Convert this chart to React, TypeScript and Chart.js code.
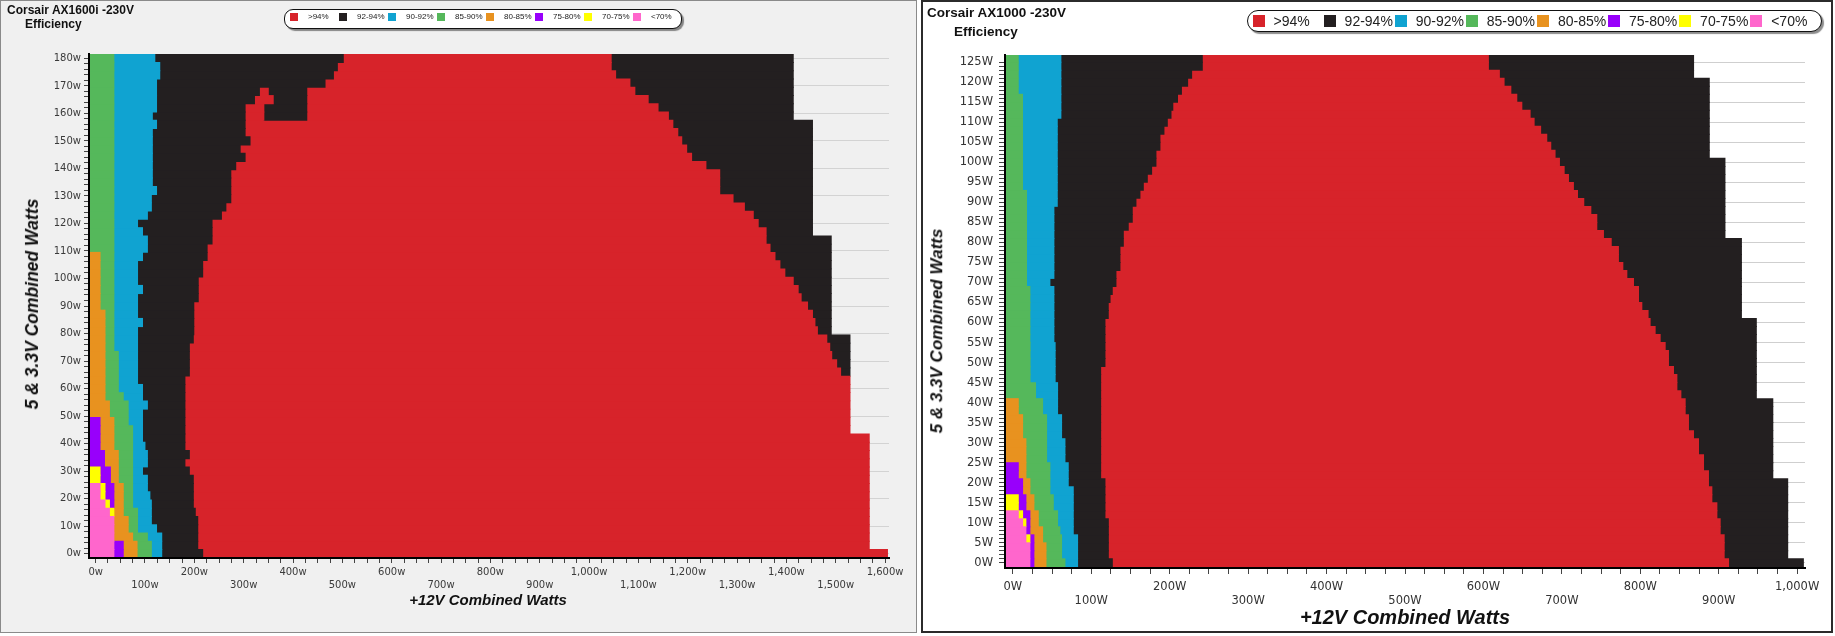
import React, { useEffect, useRef } from 'react';
import { Chart, registerables } from 'chart.js';

Chart.register(...registerables);

// ---------------- colours & legend ----------------
const RED = '#d7232a';
const BLACK = '#231f20';
const BLUE = '#10a3d1';
const GREEN = '#55b85b';
const ORANGE = '#e8921f';
const PURPLE = '#9800fb';
const YELLOW = '#ffff00';
const PINK = '#ff66cc';

const LEGEND_LABELS = ['>94%', '92-94%', '90-92%', '85-90%', '80-85%', '75-80%', '70-75%', '<70%'];
const LEGEND_COLORS = [RED, BLACK, BLUE, GREEN, ORANGE, PURPLE, YELLOW, PINK];

// ---------------- LEFT: Corsair AX1600i -230V ----------------
const L_TITLE = 'Corsair AX1600i -230V';
const L_X_MIN = -13.5;
const L_X_MAX = 1608;
const L_Y_MIN = -1.6;
const L_Y_MAX = 181.6;
const L_ROW_STEP = 3;
const L_Y_MINOR = 2;
const L_X_MINOR = 25;
const L0 = L_X_MIN;

// row centres (5 & 3.3V watts)
const L_ROWS = [0, 3, 6, 9, 12, 15, 18, 21, 24, 27, 30, 33, 36, 39, 42, 45, 48, 51, 54, 57, 60, 63, 66, 69, 72, 75, 78, 81, 84, 87, 90, 93, 96, 99, 102, 105, 108, 111, 114, 117, 120, 123, 126, 129, 132, 135, 138, 141, 144, 147, 150, 153, 156, 159, 162, 165, 168, 171, 174, 177, 180];

// right edge (+12V watts) of each efficiency band, per row
const L_PINK = [
  37, 37, 37, 37, 37, 28, 19, 9, 9, L0,
  L0, L0, L0, L0, L0, L0, L0, L0, L0, L0,
  L0, L0, L0, L0, L0, L0, L0, L0, L0, L0,
  L0, L0, L0, L0, L0, L0, L0, L0, L0, L0,
  L0, L0, L0, L0, L0, L0, L0, L0, L0, L0,
  L0, L0, L0, L0, L0, L0, L0, L0, L0, L0,
  L0,
];
const L_YELLOW = [
  37, 37, 37, 37, 37, 37, 28, 19, 19, 9,
  9, L0, L0, L0, L0, L0, L0, L0, L0, L0,
  L0, L0, L0, L0, L0, L0, L0, L0, L0, L0,
  L0, L0, L0, L0, L0, L0, L0, L0, L0, L0,
  L0, L0, L0, L0, L0, L0, L0, L0, L0, L0,
  L0, L0, L0, L0, L0, L0, L0, L0, L0, L0,
  L0,
];
const L_PURPLE = [
  56, 56, 37, 37, 37, 37, 37, 37, 37, 30,
  30, 18, 18, 9, 9, 9, 9, L0, L0, L0,
  L0, L0, L0, L0, L0, L0, L0, L0, L0, L0,
  L0, L0, L0, L0, L0, L0, L0, L0, L0, L0,
  L0, L0, L0, L0, L0, L0, L0, L0, L0, L0,
  L0, L0, L0, L0, L0, L0, L0, L0, L0, L0,
  L0,
];
const L_ORANGE = [
  84, 84, 75, 66, 66, 56, 56, 56, 56, 46,
  46, 46, 46, 37, 37, 37, 37, 28, 28, 19,
  19, 19, 19, 19, 19, 19, 19, 19, 19, 19,
  9, 9, 9, 9, 9, 9, 9, L0, L0, L0,
  L0, L0, L0, L0, L0, L0, L0, L0, L0, L0,
  L0, L0, L0, L0, L0, L0, L0, L0, L0, L0,
  L0,
];
const L_GREEN = [
  113, 113, 105, 85, 85, 85, 75, 75, 75, 75,
  75, 75, 75, 75, 75, 75, 66, 66, 66, 56,
  46, 46, 46, 46, 46, 37, 37, 37, 37, 37,
  37, 37, 37, 37, 37, 37, 37, 37, 37, 37,
  37, 37, 37, 37, 37, 37, 37, 37, 37, 37,
  37, 37, 37, 37, 37, 37, 37, 37, 37, 37,
  37,
];
const L_BLUE = [
  134, 134, 134, 123.5, 113, 113, 113, 110, 105, 105,
  95, 105, 105, 100, 95, 95, 95, 95, 105, 95,
  95, 85, 85, 85, 85, 85, 85, 85, 95, 85,
  85, 85, 95, 85, 85, 85, 95, 105, 105, 95,
  85, 105, 113, 113, 123.5, 115, 115, 115, 115, 115,
  115, 115, 123.5, 115, 123.5, 123.5, 123.5, 123.5, 130, 130,
  120,
];
const L_BLACK = [
  217, 207, 207, 207, 207, 202, 198, 198, 198, 198,
  190, 181, 190, 181, 181, 181, 181, 181, 181, 181,
  181, 181, 190, 190, 190, 190, 198, 199, 199, 199,
  199, 208, 208, 208, 217, 217, 226, 226, 236, 236,
  236, 255, 264, 274, 274, 274, 274, 284, 303, 293,
  313, 303, 303, 303, 303, 322, 332, 465, 482, 490,
  502,
];
// red island / black bay near 370W, 157-170W
const L_ISLAND_ROWS = [159, 162, 165, 168];
const L_ISLAND_RED_END = [341, 341, 360, 350];
const L_ISLAND_BLACK_END = [428, 428, 428, 428];
const L_RED = [
  1605, 1568, 1568, 1568, 1568, 1568, 1568, 1568, 1568, 1568,
  1568, 1568, 1568, 1568, 1568, 1529, 1529, 1529, 1529, 1529,
  1529, 1529, 1510, 1502, 1492, 1488, 1482, 1463, 1458, 1453,
  1443, 1430, 1424, 1414, 1397, 1387, 1377, 1367, 1359, 1359,
  1343, 1333, 1315, 1292, 1265, 1265, 1265, 1237, 1208, 1198,
  1188, 1180, 1170, 1161, 1140, 1120, 1093, 1083, 1054, 1045,
  1045,
];
const L_BLACK2 = [
  1605, 1568, 1568, 1568, 1568, 1568, 1568, 1568, 1568, 1568,
  1568, 1568, 1568, 1568, 1568, 1529, 1529, 1529, 1529, 1529,
  1529, 1529, 1529, 1529, 1529, 1529, 1529, 1491, 1491, 1491,
  1491, 1491, 1491, 1491, 1491, 1491, 1491, 1491, 1491, 1453,
  1453, 1453, 1453, 1453, 1453, 1453, 1453, 1453, 1453, 1453,
  1453, 1453, 1453, 1414, 1414, 1414, 1414, 1414, 1414, 1414,
  1414,
];

const L_X_LABEL_VALUES = [0, 100, 200, 300, 400, 500, 600, 700, 800, 900, 1000, 1100, 1200, 1300, 1400, 1500, 1600];
const L_X_LABELS = ['0w', '100w', '200w', '300w', '400w', '500w', '600w', '700w', '800w', '900w', '1,000w', '1,100w', '1,200w', '1,300w', '1,400w', '1,500w', '1,600w'];
const L_Y_LABEL_VALUES = [0, 10, 20, 30, 40, 50, 60, 70, 80, 90, 100, 110, 120, 130, 140, 150, 160, 170, 180];
const L_Y_LABELS = ['0w', '10w', '20w', '30w', '40w', '50w', '60w', '70w', '80w', '90w', '100w', '110w', '120w', '130w', '140w', '150w', '160w', '170w', '180w'];

// ---------------- RIGHT: Corsair AX1000 -230V ----------------
const R_TITLE = 'Corsair AX1000 -230V';
const R_X_MIN = -10;
const R_X_MAX = 1010;
const R_Y_MIN = -1.3;
const R_Y_MAX = 126.8;
const R_ROW_STEP = 2;
const R_Y_MINOR = 1;
const R_X_MINOR = 25;
const R0 = R_X_MIN;

const R_ROWS = [0, 2, 4, 6, 8, 10, 12, 14, 16, 18, 20, 22, 24, 26, 28, 30, 32, 34, 36, 38, 40, 42, 44, 46, 48, 50, 52, 54, 56, 58, 60, 62, 64, 66, 68, 70, 72, 74, 76, 78, 80, 82, 84, 86, 88, 90, 92, 94, 96, 98, 100, 102, 104, 106, 108, 110, 112, 114, 116, 118, 120, 122, 124, 126];

const R_PINK = [
  21.8, 21.8, 21.8, 16.7, 16.7, 12.5, 7, R0, R0, R0,
  R0, R0, R0, R0, R0, R0, R0, R0, R0, R0,
  R0, R0, R0, R0, R0, R0, R0, R0, R0, R0,
  R0, R0, R0, R0, R0, R0, R0, R0, R0, R0,
  R0, R0, R0, R0, R0, R0, R0, R0, R0, R0,
  R0, R0, R0, R0, R0, R0, R0, R0, R0, R0,
  R0, R0, R0, R0,
];
const R_YELLOW = [
  21.8, 21.8, 21.8, 21.8, 16.7, 16.7, 12.5, 7, 7, R0,
  R0, R0, R0, R0, R0, R0, R0, R0, R0, R0,
  R0, R0, R0, R0, R0, R0, R0, R0, R0, R0,
  R0, R0, R0, R0, R0, R0, R0, R0, R0, R0,
  R0, R0, R0, R0, R0, R0, R0, R0, R0, R0,
  R0, R0, R0, R0, R0, R0, R0, R0, R0, R0,
  R0, R0, R0, R0,
];
const R_PURPLE = [
  26.9, 26.9, 26.9, 26.9, 21.8, 21.8, 21.8, 16.7, 16.7, 12.5,
  12.5, 7, 7, R0, R0, R0, R0, R0, R0, R0,
  R0, R0, R0, R0, R0, R0, R0, R0, R0, R0,
  R0, R0, R0, R0, R0, R0, R0, R0, R0, R0,
  R0, R0, R0, R0, R0, R0, R0, R0, R0, R0,
  R0, R0, R0, R0, R0, R0, R0, R0, R0, R0,
  R0, R0, R0, R0,
];
const R_ORANGE = [
  42.3, 42.3, 42.3, 38, 38, 32.5, 32.5, 26.9, 26.9, 21.8,
  21.8, 16.7, 16.7, 16.7, 16.7, 16.7, 12.5, 12.5, 12.5, 7,
  7, R0, R0, R0, R0, R0, R0, R0, R0, R0,
  R0, R0, R0, R0, R0, R0, R0, R0, R0, R0,
  R0, R0, R0, R0, R0, R0, R0, R0, R0, R0,
  R0, R0, R0, R0, R0, R0, R0, R0, R0, R0,
  R0, R0, R0, R0,
];
const R_GREEN = [
  66.5, 62.2, 62.2, 62.2, 60, 57.1, 57.1, 51.6, 51.6, 47.3,
  47.3, 47.3, 47.3, 43.1, 43.1, 43.1, 43.1, 43.1, 43.1, 38,
  38, 29, 29, 22, 22, 22, 22, 22, 21.8, 21.8,
  21.8, 21.8, 21.8, 21.8, 21.8, 17.5, 17.5, 17.5, 17.5, 17.5,
  17.5, 17.5, 17.5, 17.5, 17.5, 17.5, 17.5, 12.4, 12.4, 12.4,
  12.4, 12.4, 12.4, 12.4, 12.4, 12.4, 12.4, 12.4, 12.4, 6.9,
  6.9, 6.9, 6.9, 6.9,
];
const R_BLUE = [
  82.6, 82.6, 82.6, 82.6, 77.1, 77.1, 77.1, 77.1, 77.1, 77.1,
  70.7, 70.7, 70.7, 66.5, 66.5, 66.5, 62.2, 62.2, 62.2, 57.1,
  57.1, 57.1, 57.1, 54, 54, 54, 54, 54, 52.4, 52.4,
  52.4, 52.4, 52.4, 52.4, 52.4, 47.3, 52.4, 52.4, 52.4, 52.4,
  52.4, 52.4, 52.4, 52.4, 52.4, 56.7, 56.7, 56.7, 56.7, 56.7,
  56.7, 56.7, 56.7, 56.7, 56.7, 56.7, 61.3, 61.3, 61.3, 61.3,
  61.3, 61.3, 61.3, 61.3,
];
const R_BLACK = [
  126.9, 121.8, 121.8, 121.8, 121.8, 121.8, 117.5, 117.5, 117.5, 117.5,
  117.5, 112, 112, 112, 112, 112, 112, 112, 112, 112,
  112, 112, 112, 112, 112, 117.5, 117.5, 117.5, 117.5, 117.5,
  117.5, 121.7, 121.7, 124, 126.8, 131.5, 131.5, 136.6, 136.6, 136.6,
  140.9, 140.9, 147.2, 152.3, 152.3, 157, 162.1, 166.4, 171.5, 177,
  182.5, 182.5, 187.6, 187.6, 192.7, 197, 201.7, 204, 210, 215,
  222.9, 228, 241.6, 241.6,
];
const R_RED = [
  912.6, 907, 907, 907, 901.9, 901.9, 897.7, 897.7, 891.3, 891.3,
  887, 887, 880.7, 880.7, 874.3, 874.3, 867.9, 861.5, 861.5, 857.3,
  857.3, 851.8, 846.7, 846.7, 842.4, 836, 836, 831.8, 825.4, 819,
  812.6, 810, 802, 797.8, 797.8, 791.4, 782.9, 777.8, 772.2, 772.2,
  763, 753.1, 744.6, 744.6, 737, 728, 720, 714.8, 708.5, 703,
  697, 691.4, 685.9, 680.8, 673, 664.7, 659.6, 649, 642.6, 635,
  626.4, 620.4, 606.4, 606.4,
];
const R_BLACK2 = [
  1008, 988, 988, 988, 988, 988, 988, 988, 988, 988,
  988, 969, 969, 969, 969, 969, 969, 969, 969, 969,
  969, 948, 948, 948, 948, 948, 948, 948, 948, 948,
  948, 929, 929, 929, 929, 929, 929, 929, 929, 929,
  929, 908, 908, 908, 908, 908, 908, 908, 908, 908,
  908, 888, 888, 888, 888, 888, 888, 888, 888, 888,
  888, 868, 868, 868,
];

const R_X_LABEL_VALUES = [0, 100, 200, 300, 400, 500, 600, 700, 800, 900, 1000];
const R_X_LABELS = ['0W', '100W', '200W', '300W', '400W', '500W', '600W', '700W', '800W', '900W', '1,000W'];
const R_Y_LABEL_VALUES = [0, 5, 10, 15, 20, 25, 30, 35, 40, 45, 50, 55, 60, 65, 70, 75, 80, 85, 90, 95, 100, 105, 110, 115, 120, 125];
const R_Y_LABELS = ['0W', '5W', '10W', '15W', '20W', '25W', '30W', '35W', '40W', '45W', '50W', '55W', '60W', '65W', '70W', '75W', '80W', '85W', '90W', '95W', '100W', '105W', '110W', '115W', '120W', '125W'];

// ---------------- helpers ----------------
type Seg = { color: string; rows: number[]; from: number[]; to: number[] };

function tickRange(from: number, to: number, step: number) {
  const out: number[] = [];
  for (let v = from; v <= to + 1e-9; v += step) out.push(Math.round(v * 1000) / 1000);
  return out;
}

function segDatasets(segs: Seg[], barPct: number) {
  return segs.map((s) => {
    const data: any[] = [];
    for (let i = 0; i < s.rows.length; i++) {
      if (s.to[i] > s.from[i]) data.push({ y: s.rows[i], x: [s.from[i], s.to[i]] });
    }
    return {
      data,
      backgroundColor: s.color,
      borderWidth: 0,
      grouped: false,
      barPercentage: barPct,
      categoryPercentage: 1,
      inflateAmount: 0.45,
    };
  });
}

function leftDatasets() {
  const start = L_ROWS.map(() => L_X_MIN);
  const islandStart = L_ISLAND_ROWS.map((y) => L_BLACK[L_ROWS.indexOf(y)]);
  const redStart = L_ROWS.map((y, i) => {
    const k = L_ISLAND_ROWS.indexOf(y);
    return k >= 0 ? L_ISLAND_BLACK_END[k] : L_BLACK[i];
  });
  const segs: Seg[] = [
    { color: PINK, rows: L_ROWS, from: start, to: L_PINK },
    { color: YELLOW, rows: L_ROWS, from: L_PINK, to: L_YELLOW },
    { color: PURPLE, rows: L_ROWS, from: L_YELLOW, to: L_PURPLE },
    { color: ORANGE, rows: L_ROWS, from: L_PURPLE, to: L_ORANGE },
    { color: GREEN, rows: L_ROWS, from: L_ORANGE, to: L_GREEN },
    { color: BLUE, rows: L_ROWS, from: L_GREEN, to: L_BLUE },
    { color: BLACK, rows: L_ROWS, from: L_BLUE, to: L_BLACK },
    { color: RED, rows: L_ISLAND_ROWS, from: islandStart, to: L_ISLAND_RED_END },
    { color: BLACK, rows: L_ISLAND_ROWS, from: L_ISLAND_RED_END, to: L_ISLAND_BLACK_END },
    { color: RED, rows: L_ROWS, from: redStart, to: L_RED },
    { color: BLACK, rows: L_ROWS, from: L_RED, to: L_BLACK2 },
  ];
  return segDatasets(segs, L_ROW_STEP / L_Y_MINOR);
}

function rightDatasets() {
  const start = R_ROWS.map(() => R_X_MIN);
  const segs: Seg[] = [
    { color: PINK, rows: R_ROWS, from: start, to: R_PINK },
    { color: YELLOW, rows: R_ROWS, from: R_PINK, to: R_YELLOW },
    { color: PURPLE, rows: R_ROWS, from: R_YELLOW, to: R_PURPLE },
    { color: ORANGE, rows: R_ROWS, from: R_PURPLE, to: R_ORANGE },
    { color: GREEN, rows: R_ROWS, from: R_ORANGE, to: R_GREEN },
    { color: BLUE, rows: R_ROWS, from: R_GREEN, to: R_BLUE },
    { color: BLACK, rows: R_ROWS, from: R_BLUE, to: R_BLACK },
    { color: RED, rows: R_ROWS, from: R_BLACK, to: R_RED },
    { color: BLACK, rows: R_ROWS, from: R_RED, to: R_BLACK2 },
  ];
  return segDatasets(segs, R_ROW_STEP / R_Y_MINOR);
}

type PanelCfg = {
  canvas: { left: number; top: number; width: number; height: number };
  padding: { left: number; right: number; top: number; bottom: number };
  yAxisWidth: number;
  xAxisHeight: number;
  xMin: number; xMax: number; yMin: number; yMax: number;
  xTicks: number[]; yTicks: number[];
  xLabelValues: number[]; xLabels: string[];
  yLabelValues: number[]; yLabels: string[];
  fontSize: number; lineHeight: number;
  tickLen: number; xPad: number; yPad: number;
  labelColor: string; gridColor: string;
  datasets: () => any[];
};

const LEFT_CFG: PanelCfg = {
  canvas: { left: 0, top: 0, width: 917, height: 633 },
  padding: { left: 39, right: 28, top: 54, bottom: 35 },
  yAxisWidth: 50,
  xAxisHeight: 40,
  xMin: L_X_MIN, xMax: L_X_MAX, yMin: L_Y_MIN, yMax: L_Y_MAX,
  xTicks: tickRange(0, 1600, L_X_MINOR),
  yTicks: tickRange(0, 180, L_Y_MINOR),
  xLabelValues: L_X_LABEL_VALUES, xLabels: L_X_LABELS,
  yLabelValues: L_Y_LABEL_VALUES, yLabels: L_Y_LABELS,
  fontSize: 10, lineHeight: 1.23,
  tickLen: 5, xPad: 3.5, yPad: 3,
  labelColor: '#3a3a3a', gridColor: '#d3d3d3',
  datasets: leftDatasets,
};

const RIGHT_CFG: PanelCfg = {
  canvas: { left: 921, top: 0, width: 911, height: 633 },
  padding: { left: 34, right: 27, top: 55, bottom: 25 },
  yAxisWidth: 50,
  xAxisHeight: 40,
  xMin: R_X_MIN, xMax: R_X_MAX, yMin: R_Y_MIN, yMax: R_Y_MAX,
  xTicks: tickRange(0, 1000, R_X_MINOR),
  yTicks: tickRange(0, 125, R_Y_MINOR),
  xLabelValues: R_X_LABEL_VALUES, xLabels: R_X_LABELS,
  yLabelValues: R_Y_LABEL_VALUES, yLabels: R_Y_LABELS,
  fontSize: 11.5, lineHeight: 1.17,
  tickLen: 6, xPad: 6.5, yPad: 6,
  labelColor: '#333333', gridColor: '#cfcfcf',
  datasets: rightDatasets,
};

function makeConfig(p: PanelCfg): any {
  const font = { family: '"DejaVu Sans", Verdana, sans-serif', size: p.fontSize, lineHeight: p.lineHeight };
  return {
    type: 'bar',
    data: { datasets: p.datasets() },
    options: {
      indexAxis: 'y',
      animation: false,
      responsive: false,
      maintainAspectRatio: false,
      devicePixelRatio: 1,
      events: [],
      layout: { padding: p.padding },
      plugins: {
        legend: { display: false },
        title: { display: false },
        tooltip: { enabled: false },
      },
      scales: {
        x: {
          type: 'linear',
          position: 'bottom',
          min: p.xMin,
          max: p.xMax,
          offset: false,
          afterBuildTicks: (s: any) => { s.ticks = p.xTicks.map((v) => ({ value: v })); },
          afterFit: (s: any) => { s.height = p.xAxisHeight; },
          ticks: {
            autoSkip: false,
            maxRotation: 0,
            minRotation: 0,
            padding: p.xPad,
            color: p.labelColor,
            font,
            callback: (v: number) => {
              const k = p.xLabelValues.indexOf(v);
              if (k < 0) return '';
              return k % 2 === 1 ? ['', p.xLabels[k]] : p.xLabels[k];
            },
          },
          grid: { display: true, drawOnChartArea: false, drawTicks: true, tickLength: p.tickLen, tickColor: '#444', offset: false },
          border: { display: true, color: '#000', width: 2, z: 2 },
        },
        y: {
          type: 'linear',
          position: 'left',
          min: p.yMin,
          max: p.yMax,
          offset: false,
          afterBuildTicks: (s: any) => { s.ticks = p.yTicks.map((v) => ({ value: v })); },
          afterFit: (s: any) => { s.width = p.yAxisWidth; },
          ticks: {
            autoSkip: false,
            padding: p.yPad,
            color: p.labelColor,
            font,
            callback: (v: number) => {
              const k = p.yLabelValues.indexOf(v);
              return k < 0 ? '' : p.yLabels[k];
            },
          },
          grid: {
            display: true,
            drawOnChartArea: true,
            drawTicks: true,
            tickLength: p.tickLen,
            tickColor: '#444',
            offset: false,
            lineWidth: 1,
            color: (ctx: any) => (ctx.tick && p.yLabelValues.indexOf(ctx.tick.value) >= 0 ? p.gridColor : 'rgba(0,0,0,0)'),
          },
          border: { display: true, color: '#000', width: 2, z: 2 },
        },
      },
    },
  };
}

function HeatChart({ cfg }: { cfg: PanelCfg }) {
  const ref = useRef<HTMLCanvasElement>(null);
  useEffect(() => {
    if (!ref.current) return;
    const chart = new Chart(ref.current, makeConfig(cfg));
    return () => chart.destroy();
  }, [cfg]);
  const c = cfg.canvas;
  return (
    <canvas
      ref={ref}
      width={c.width}
      height={c.height}
      style={{ position: 'absolute', left: c.left, top: c.top, width: c.width, height: c.height }}
    />
  );
}

type LegendCfg = {
  left: number; top: number; width: number; height: number;
  border: number; radius: number;
  sq: number; sqX: number; sqTop: number; pitch: number;
  txtX: number; txtTop: number; fontSize: number;
};

function Legend({ c }: { c: LegendCfg }) {
  return (
    <div
      style={{
        position: 'absolute', left: c.left, top: c.top, width: c.width, height: c.height,
        boxSizing: 'border-box', border: `${c.border}px solid #111`, borderRadius: c.radius,
        background: '#fff', boxShadow: '2px 2px 1px rgba(0,0,0,0.45)',
      }}
    >
      {LEGEND_LABELS.map((lab, k) => (
        <React.Fragment key={lab}>
          <div style={{ position: 'absolute', left: c.sqX + k * c.pitch, top: c.sqTop, width: c.sq, height: c.sq, background: LEGEND_COLORS[k] }} />
          <div style={{ position: 'absolute', left: c.txtX + k * c.pitch, top: c.txtTop, fontSize: c.fontSize, lineHeight: `${c.fontSize + 2}px`, color: '#222', whiteSpace: 'nowrap' }}>{lab}</div>
        </React.Fragment>
      ))}
    </div>
  );
}

const L_LEGEND: LegendCfg = { left: 284, top: 9, width: 398, height: 20, border: 1, radius: 9, sq: 8, sqX: 5, sqTop: 3, pitch: 49, txtX: 23, txtTop: 2, fontSize: 8 };
const R_LEGEND: LegendCfg = { left: 1247, top: 10, width: 575, height: 22, border: 1.5, radius: 11, sq: 12, sqX: 4.5, sqTop: 3.5, pitch: 71.1, txtX: 25.5, txtTop: 1.5, fontSize: 14 };

function Text({ x, y, size, children, rotate, bold = true, italic = false, anchor = 'left' }: any) {
  const tf = anchor === 'center' ? `translate(-50%, -50%)${rotate ? ` rotate(${rotate}deg)` : ''}` : 'translateY(-50%)';
  return (
    <div
      style={{
        position: 'absolute', left: x, top: y, transform: tf, fontSize: size,
        fontWeight: bold ? 700 : 400, fontStyle: italic ? 'italic' : 'normal',
        whiteSpace: 'nowrap', color: '#111', lineHeight: 1.15,
      }}
    >
      {children}
    </div>
  );
}

export default function App() {
  useEffect(() => {
    document.body.style.margin = '0';
  }, []);
  return (
    <div
      style={{
        position: 'absolute', left: 0, top: 0, width: 1835, height: 636, overflow: 'hidden',
        background: '#fff', fontFamily: '"Liberation Sans", Arial, sans-serif',
      }}
    >
      <div style={{ position: 'absolute', left: 0, top: 0, width: 917, height: 633, boxSizing: 'border-box', border: '1px solid #8a8a8a', background: '#f0f0f0' }} />
      <div style={{ position: 'absolute', left: 921, top: 0, width: 912, height: 633, boxSizing: 'border-box', border: '2px solid #2b2b2b', background: '#fff' }} />

      <HeatChart cfg={LEFT_CFG} />
      <HeatChart cfg={RIGHT_CFG} />

      <Text x={7} y={11} size={12}>{L_TITLE}</Text>
      <Text x={25} y={25} size={12}>Efficiency</Text>
      <Text x={927} y={13} size={13.5}>{R_TITLE}</Text>
      <Text x={954} y={32} size={13.5}>Efficiency</Text>

      <Legend c={L_LEGEND} />
      <Legend c={R_LEGEND} />

      <Text x={32} y={304} size={17.5} italic anchor="center" rotate={-90}>5 &amp; 3.3V Combined Watts</Text>
      <Text x={488} y={600} size={15} italic anchor="center">+12V Combined Watts</Text>
      <Text x={937} y={331} size={17} italic anchor="center" rotate={-90}>5 &amp; 3.3V Combined Watts</Text>
      <Text x={1405} y={617} size={20} italic anchor="center">+12V Combined Watts</Text>
    </div>
  );
}
